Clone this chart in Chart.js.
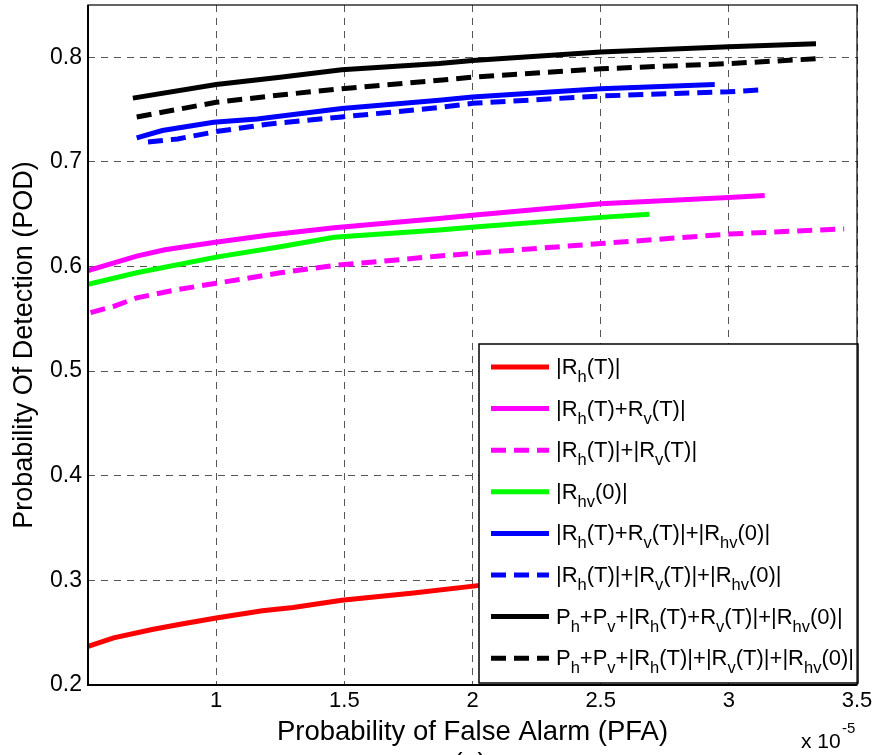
<!DOCTYPE html>
<html lang="en">
<head>
  <meta charset="UTF-8">
  <title>POD vs PFA</title>
  <style>
    body { margin: 0; background: #fff; }
  </style>
</head>
<body>
  <canvas id="chart" width="876" height="755"></canvas>
  <script src="https://cdn.jsdelivr.net/npm/chart.js@4/dist/chart.umd.min.js"></script>
  <script>
    // axis ticks (PFA in units of 1e-5)
    const xTicks = [1, 1.5, 2, 2.5, 3, 3.5]
    const yTicks = [0.2, 0.3, 0.4, 0.5, 0.6, 0.7, 0.8]

    // legend labels, _{..} marks a subscript
    const labels = [
      '|R_{h}(T)|',
      '|R_{h}(T)+R_{v}(T)|',
      '|R_{h}(T)|+|R_{v}(T)|',
      '|R_{hv}(0)|',
      '|R_{h}(T)+R_{v}(T)|+|R_{hv}(0)|',
      '|R_{h}(T)|+|R_{v}(T)|+|R_{hv}(0)|',
      'P_{h}+P_{v}+|R_{h}(T)+R_{v}(T)|+|R_{hv}(0)|',
      'P_{h}+P_{v}+|R_{h}(T)|+|R_{v}(T)|+|R_{hv}(0)|'
    ]

    // series
    const rhX = [0.5, 0.6, 0.75, 0.86, 1.0, 1.18, 1.3, 1.49, 1.77, 2.02, 2.3, 2.6, 2.9]
    const rhY = [0.237, 0.245, 0.253, 0.258, 0.264, 0.271, 0.274, 0.281, 0.288, 0.295, 0.300, 0.306, 0.311]

    const rhPlusRvX = [0.5, 0.69, 0.8, 0.99, 1.2, 1.46, 1.87, 2.0, 2.5, 3.0, 3.14]
    const rhPlusRvY = [0.596, 0.610, 0.616, 0.623, 0.630, 0.637, 0.646, 0.649, 0.660, 0.666, 0.668]

    const rhAbsRvX = [0.51, 0.6, 0.69, 0.85, 1.0, 1.25, 1.46, 1.87, 2.02, 2.5, 3.0, 3.45]
    const rhAbsRvY = [0.556, 0.562, 0.570, 0.578, 0.584, 0.594, 0.601, 0.610, 0.613, 0.622, 0.631, 0.636]

    const rhvX = [0.5, 0.69, 1.0, 1.25, 1.46, 1.87, 2.02, 2.5, 2.69]
    const rhvY = [0.583, 0.594, 0.609, 0.619, 0.628, 0.635, 0.638, 0.647, 0.650]

    const sumX = [0.69, 0.79, 0.99, 1.16, 1.49, 1.87, 2.0, 2.5, 2.945]
    const sumY = [0.723, 0.730, 0.738, 0.741, 0.751, 0.759, 0.762, 0.770, 0.774]

    const absSumX = [0.734, 0.85, 1.0, 1.2, 1.49, 1.87, 2.0, 2.5, 3.0, 3.14]
    const absSumY = [0.719, 0.722, 0.729, 0.736, 0.743, 0.752, 0.756, 0.763, 0.767, 0.769]

    const powSumX = [0.675, 1.0, 1.25, 1.49, 1.87, 2.0, 2.5, 3.0, 3.34]
    const powSumY = [0.761, 0.774, 0.781, 0.788, 0.794, 0.797, 0.805, 0.810, 0.813]

    const powAbsX = [0.69, 1.0, 1.25, 1.49, 1.87, 2.0, 2.5, 3.0, 3.37]
    const powAbsY = [0.743, 0.757, 0.764, 0.770, 0.778, 0.781, 0.789, 0.794, 0.799]

    const pts = (xs, ys) => xs.map((x, i) => ({ x, y: ys[i] }))
    const dash = [15, 8]

    const series = [
      { xs: rhX, ys: rhY, color: '#ff0000' },
      { xs: rhPlusRvX, ys: rhPlusRvY, color: '#ff00ff' },
      { xs: rhAbsRvX, ys: rhAbsRvY, color: '#ff00ff', dashed: true },
      { xs: rhvX, ys: rhvY, color: '#00ff00' },
      { xs: sumX, ys: sumY, color: '#0000ff' },
      { xs: absSumX, ys: absSumY, color: '#0000ff', dashed: true },
      { xs: powSumX, ys: powSumY, color: '#000000' },
      { xs: powAbsX, ys: powAbsY, color: '#000000', dashed: true }
    ]

    const font = "'Liberation Sans', Arial, sans-serif"
    Chart.defaults.font.family = font
    Chart.defaults.color = '#000'

    // split '|R_{h}(T)|' into [text, isSub] pieces
    function parseLabel(s) {
      const out = []
      const re = /_\{([^}]*)\}/g
      let last = 0, m
      while ((m = re.exec(s))) {
        if (m.index > last) out.push([s.slice(last, m.index), false])
        out.push([m[1], true])
        last = re.lastIndex
      }
      if (last < s.length) out.push([s.slice(last), false])
      return out
    }

    const legendBox = {
      id: 'legendBox',
      afterDatasetsDraw(chart) {
        const { ctx, chartArea } = chart
        const w = 379, h = 339
        const x0 = chartArea.right - w + 1
        const y0 = chartArea.bottom - h - 2
        ctx.save()
        ctx.fillStyle = '#fff'
        ctx.fillRect(x0, y0, w, h)
        ctx.strokeStyle = '#000'
        ctx.lineWidth = 1.5
        ctx.strokeRect(x0, y0, w, h)
        ctx.textBaseline = 'alphabetic'
        ctx.textAlign = 'left'
        chart.data.datasets.forEach((ds, i) => {
          const y = y0 + 23 + i * 41.6
          ctx.beginPath()
          ctx.setLineDash(ds.borderDash || [])
          ctx.strokeStyle = ds.borderColor
          ctx.lineWidth = 5
          ctx.moveTo(x0 + 12, y)
          ctx.lineTo(x0 + 70, y)
          ctx.stroke()
          ctx.setLineDash([])
          ctx.fillStyle = '#000'
          let tx = x0 + 77
          for (const [t, sub] of parseLabel(ds.label)) {
            ctx.font = (sub ? '16.5px ' : '22px ') + font
            ctx.fillText(t, tx, sub ? y + 15 : y + 7)
            tx += ctx.measureText(t).width
          }
        })
        ctx.restore()
      }
    }

    const frame = {
      id: 'frame',
      afterDraw(chart) {
        const { ctx, chartArea: a } = chart
        ctx.save()
        ctx.strokeStyle = '#000'
        ctx.lineWidth = 1.2
        ctx.strokeRect(a.left, a.top, a.right - a.left, a.bottom - a.top)
        ctx.lineWidth = 2
        ctx.beginPath()
        ctx.moveTo(a.left, a.top)
        ctx.lineTo(a.left, a.bottom)
        ctx.lineTo(a.right, a.bottom)
        ctx.stroke()
        // exponent note and the sub-figure tag
        ctx.fillStyle = '#000'
        ctx.textAlign = 'left'
        ctx.textBaseline = 'alphabetic'
        ctx.font = '21px ' + font
        ctx.fillText('x 10', 801, 748)
        ctx.font = '15px ' + font
        ctx.fillText('-5', 842, 733)
        ctx.textAlign = 'center'
        ctx.font = '27px ' + font
        ctx.fillText('(a)', 470, 772)
        ctx.restore()
      }
    }

    new Chart(document.getElementById('chart'), {
      type: 'line',
      data: {
        datasets: series.map((s, i) => ({
          label: labels[i],
          data: pts(s.xs, s.ys),
          borderColor: s.color,
          backgroundColor: s.color,
          borderWidth: 5,
          borderDash: s.dashed ? dash : [],
          pointRadius: 0,
          tension: 0,
          fill: false
        }))
      },
      options: {
        responsive: false,
        animation: false,
        layout: { padding: { top: 5, right: 19, left: 0, bottom: 0 } },
        plugins: {
          legend: { display: false },
          tooltip: { enabled: false }
        },
        scales: {
          x: {
            type: 'linear',
            min: 0.5,
            max: 3.5,
            afterBuildTicks: (scale) => { scale.ticks = xTicks.map(value => ({ value })) },
            afterFit: (scale) => {
              scale.height = 70
              scale.paddingLeft = 0
              scale.paddingRight = 0
            },
            grid: { color: '#555', lineWidth: 1, drawTicks: false },
            border: { display: false, dash: [7, 6] },
            ticks: {
              padding: 3,
              maxRotation: 0,
              font: { size: 22 },
              callback: (v) => String(v)
            },
            title: {
              display: true,
              text: 'Probability of False Alarm (PFA)',
              font: { size: 27.5 },
              padding: { top: 0, bottom: 6 }
            }
          },
          y: {
            min: 0.2,
            max: 0.85,
            afterBuildTicks: (scale) => { scale.ticks = yTicks.map(value => ({ value })) },
            afterFit: (scale) => {
              scale.width = 88
              scale.paddingTop = 0
              scale.paddingBottom = 0
            },
            grid: { color: '#555', lineWidth: 1, drawTicks: false },
            border: { display: false, dash: [7, 6] },
            ticks: {
              padding: 6,
              font: { size: 23 },
              callback: (v) => v.toFixed(1)
            },
            title: {
              display: true,
              text: 'Probability Of Detection (POD)',
              font: { size: 27 },
              padding: { top: 8, bottom: 0 }
            }
          }
        }
      },
      plugins: [legendBox, frame]
    })
  </script>
</body>
</html>
